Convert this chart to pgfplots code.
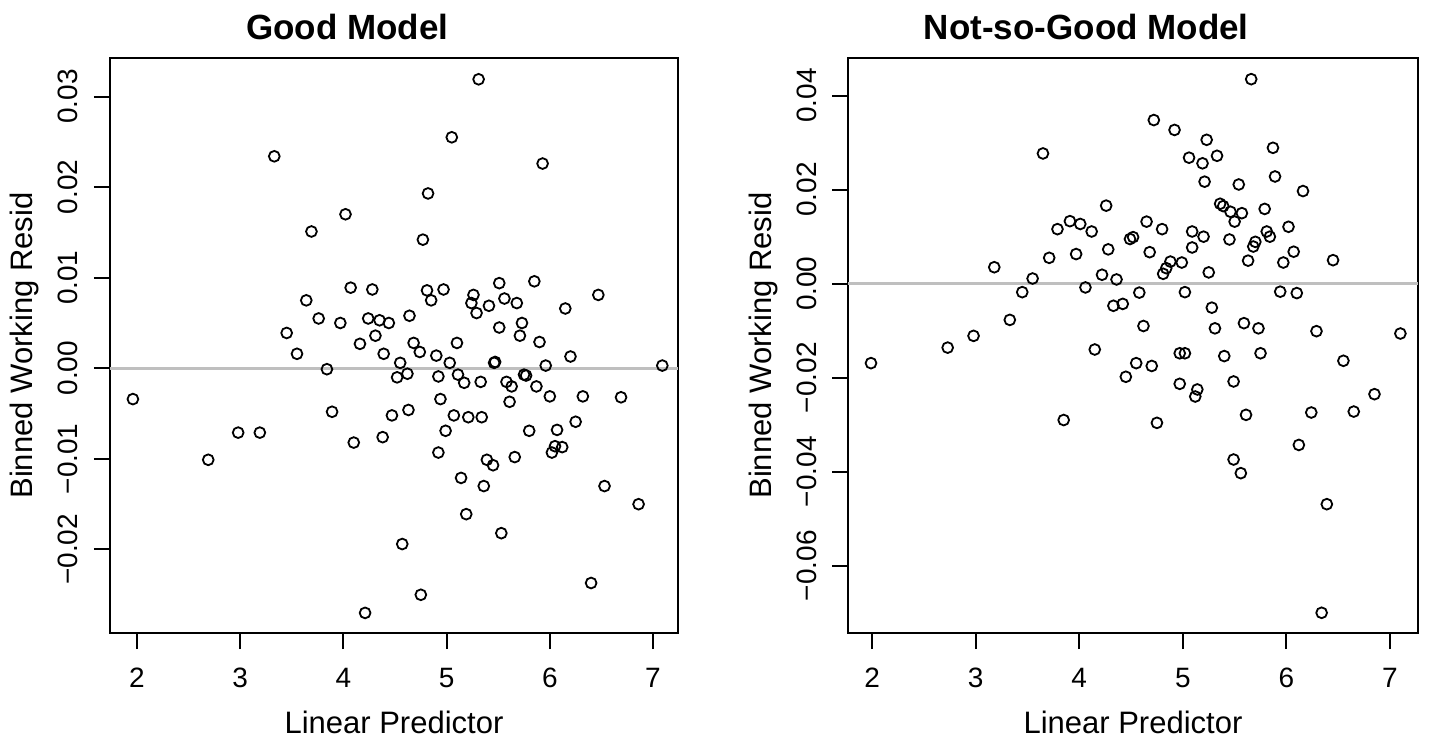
\documentclass[border=0pt]{standalone}
\usepackage{pgfplots}
\pgfplotsset{compat=1.18}
\usepackage{fontspec}
\setmainfont{Liberation Sans}

\pgfplotstableread{
x y
1.96 -0.0034
2.69 -0.0101
2.98 -0.0071
3.19 -0.0071
3.33 0.0234
3.45 0.0039
3.55 0.0016
3.64 0.0075
3.69 0.0151
3.76 0.0055
3.84 -0.0001
3.89 -0.0048
3.97 0.0050
4.02 0.0170
4.07 0.0089
4.10 -0.0082
4.16 0.0027
4.21 -0.0270
4.24 0.0055
4.28 0.0087
4.31 0.0036
4.35 0.0053
4.38 -0.0076
4.39 0.0016
4.44 0.0050
4.47 -0.0052
4.52 -0.0010
4.55 0.0006
4.57 -0.0194
4.62 -0.0006
4.63 -0.0046
4.64 0.0058
4.68 0.0028
4.74 0.0018
4.75 -0.0250
4.77 0.0142
4.81 0.0086
4.82 0.0193
4.85 0.0075
4.90 0.0014
4.92 -0.0009
4.92 -0.0093
4.94 -0.0034
4.97 0.0087
4.99 -0.0069
5.03 0.0006
5.05 0.0255
5.07 -0.0052
5.10 0.0028
5.11 -0.0007
5.14 -0.0121
5.17 -0.0016
5.19 -0.0161
5.21 -0.0054
5.24 0.0072
5.26 0.0081
5.29 0.0061
5.31 0.0319
5.33 -0.0015
5.34 -0.0054
5.36 -0.0130
5.39 -0.0101
5.41 0.0069
5.45 -0.0107
5.46 0.0006
5.47 0.0007
5.51 0.0094
5.51 0.0045
5.53 -0.0182
5.56 0.0077
5.58 -0.0015
5.61 -0.0037
5.63 -0.0020
5.66 -0.0098
5.68 0.0072
5.71 0.0036
5.73 0.0050
5.75 -0.0007
5.77 -0.0008
5.80 -0.0069
5.85 0.0096
5.87 -0.0020
5.90 0.0029
5.93 0.0226
5.96 0.0003
6.00 -0.0031
6.02 -0.0093
6.05 -0.0086
6.07 -0.0068
6.12 -0.0087
6.15 0.0066
6.20 0.0013
6.25 -0.0059
6.32 -0.0031
6.40 -0.0237
6.47 0.0081
6.53 -0.0130
6.69 -0.0032
6.86 -0.0150
7.09 0.0003
}\goodtable

\pgfplotstableread{
x y
1.99 -0.0169
2.73 -0.0136
2.98 -0.0111
3.18 0.0035
3.33 -0.0077
3.45 -0.0018
3.55 0.0011
3.65 0.0277
3.71 0.0055
3.79 0.0116
3.85 -0.0290
3.91 0.0133
3.97 0.0063
4.01 0.0127
4.06 -0.0008
4.12 0.0111
4.15 -0.0140
4.22 0.0019
4.26 0.0166
4.28 0.0073
4.33 -0.0047
4.36 0.0009
4.42 -0.0043
4.45 -0.0198
4.49 0.0095
4.52 0.0099
4.55 -0.0169
4.58 -0.0019
4.62 -0.0090
4.65 0.0132
4.68 0.0067
4.70 -0.0175
4.72 0.0348
4.75 -0.0296
4.80 0.0116
4.81 0.0021
4.84 0.0033
4.88 0.0047
4.92 0.0327
4.97 -0.0148
4.97 -0.0213
4.99 0.0045
5.02 -0.0018
5.02 -0.0148
5.06 0.0268
5.09 0.0111
5.09 0.0077
5.12 -0.0240
5.14 -0.0225
5.19 0.0256
5.20 0.0100
5.21 0.0217
5.23 0.0306
5.25 0.0024
5.28 -0.0051
5.31 -0.0095
5.33 0.0272
5.36 0.0170
5.39 0.0165
5.40 -0.0154
5.45 0.0094
5.46 0.0153
5.49 -0.0208
5.49 -0.0374
5.50 0.0132
5.54 0.0211
5.56 -0.0403
5.57 0.0150
5.59 -0.0084
5.61 -0.0279
5.63 0.0049
5.66 0.0435
5.68 0.0079
5.70 0.0089
5.73 -0.0095
5.75 -0.0148
5.79 0.0159
5.81 0.0111
5.84 0.0100
5.87 0.0289
5.89 0.0228
5.94 -0.0017
5.97 0.0045
6.02 0.0121
6.07 0.0068
6.10 -0.0020
6.12 -0.0343
6.16 0.0197
6.24 -0.0274
6.29 -0.0101
6.34 -0.0700
6.39 -0.0469
6.45 0.0050
6.55 -0.0164
6.65 -0.0272
6.85 -0.0235
7.10 -0.0106
}\badtable

\pgfplotsset{
  rstyle/.style={
    scale only axis,
    scaled ticks=false,
    axis line style={line width=1pt},
    tick style={line width=1pt, black},
    major tick length=8pt,
    tick align=outside,
    tick pos=left,
    xtick={2,3,4,5,6,7},
    xticklabels={2,3,4,5,6,7},
    tick label style={font=\fontsize{14}{16}\selectfont},
    xticklabel style={anchor=base, yshift=-19pt},
    yticklabel style={xshift=-8pt, rotate=90, anchor=base},
    every axis x label/.style={at={([yshift=-50pt]axis description cs:0.5,0)}, anchor=base, font=\fontsize{15.5}{18}\selectfont},
    every axis y label/.style={at={([xshift=-38.5pt]axis description cs:0,0.5)}, rotate=90, anchor=base, font=\fontsize{15.5}{18}\selectfont},
    every axis title/.style={at={([yshift=9.5pt]axis description cs:0.418,1)}, anchor=base, font=\fontsize{17.5}{20}\selectfont\bfseries},
    xlabel={Linear Predictor},
    ylabel={Binned Working Resid},
    clip=false,
  },
  pts/.style={only marks, mark=o, mark size=2.7pt, line width=0.9pt, black},
  zl/.style={color=black!25, line width=1.3pt, no marks},
}

\begin{document}
\begin{tikzpicture}
\path[use as bounding box] (0pt,0pt) rectangle (716pt,-370pt);
\begin{axis}[rstyle,
  at={(55pt,-29pt)}, anchor=north west,
  width=284pt, height=287.5pt,
  xmin=1.738, xmax=7.242, ymin=-0.02922, ymax=0.03425,
  ytick={-0.02,-0.01,0,0.01,0.02,0.03},
  yticklabels={−0.02,−0.01,0.00,0.01,0.02,0.03},
  title={Good Model}]
\addplot[zl] coordinates {(1.738,0) (7.242,0)};
\addplot[pts] table[x=x,y=y] {\goodtable};
\end{axis}
\begin{axis}[rstyle,
  at={(424pt,-29pt)}, anchor=north west,
  width=285pt, height=287.5pt,
  xmin=1.768, xmax=7.270, ymin=-0.0743, ymax=0.0480,
  ytick={-0.06,-0.04,-0.02,0,0.02,0.04},
  yticklabels={−0.06,−0.04,−0.02,0.00,0.02,0.04},
  title={Not-so-Good Model}]
\addplot[zl] coordinates {(1.768,0) (7.270,0)};
\addplot[pts] table[x=x,y=y] {\badtable};
\end{axis}
\end{tikzpicture}
\end{document}
